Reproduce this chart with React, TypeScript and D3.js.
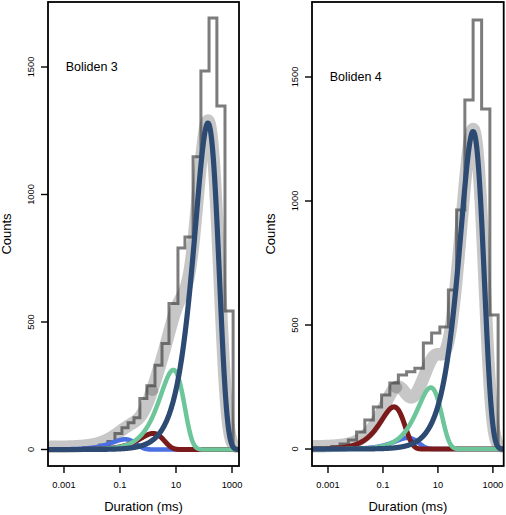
import React from "react";
import * as d3 from "d3";

// ---------- data ----------
const panelTitles = ["Boliden 3", "Boliden 4"];
const xTickValues = [0.001, 0.1, 10, 1000];
const xTickLabels = ["0.001", "0.1", "10", "1000"];
const yTickValues = [0, 500, 1000, 1500];
const yTickLabels = ["0", "500", "1000", "1500"];

// histogram bin edges (log10 ms) and counts
const hist3EdgesLog = [-1.72, -1.43, -1.18, -0.93, -0.71, -0.5, -0.29, -0.04, 0.25, 0.5, 0.75, 1.07, 1.32, 1.61, 1.89, 2.18, 2.46, 2.75, 3.04];
const hist3Counts = [18, 31, 63, 85, 105, 125, 200, 250, 330, 416, 573, 790, 833, 1148, 1484, 1692, 1347, 543];
const hist4EdgesLog = [-2.87, -2.56, -2.26, -1.96, -1.66, -1.35, -1.05, -0.75, -0.44, -0.14, 0.16, 0.47, 0.77, 1.07, 1.38, 1.68, 1.98, 2.28, 2.59, 2.89, 3.19];
const hist4Counts = [10, 20, 36, 69, 117, 169, 218, 266, 298, 312, 326, 427, 468, 492, 641, 964, 1407, 1730, 1371, 540];

// fitted exponential components: time constant (log10 ms) and peak height (counts)
const componentNames = ["fast 1", "fast 2", "intermediate", "slow"];
const fit3TauLog = [-0.82, 0.18, 0.904, 2.14];
const fit3Peak = [40, 63, 312, 1280];
const fit4TauLog = [-0.1, -0.6, 0.74, 2.28];
const fit4Peak = [45, 170, 248, 1280];
const fitFloor = [10, 10];

// ---------- styles ----------
const componentColors = ["#4a6fe3", "#7a1a1a", "#6dc59a", "#2c4a72"];
const componentWidths = [4.6, 5, 4.5, 5.2];
const FONT = "'Liberation Sans', Arial, Helvetica, sans-serif";

const panels = [
  {
    id: "p3",
    title: panelTitles[0],
    edges: hist3EdgesLog,
    counts: hist3Counts,
    tau: fit3TauLog,
    peak: fit3Peak,
    floor: fitFloor[0],
    left: 48, right: 239, top: 2, bottom: 466,
    xLog: [-3.571, 3.25],
    yDomain: [-64.7, 1754.9],
    bandSplitLog: 0.15,
  },
  {
    id: "p4",
    title: panelTitles[1],
    edges: hist4EdgesLog,
    counts: hist4Counts,
    tau: fit4TauLog,
    peak: fit4Peak,
    floor: fitFloor[1],
    left: 312, right: 503.7, top: 2, bottom: 466,
    xLog: [-3.582, 3.393],
    yDomain: [-68.5, 1802.4],
    bandSplitLog: -0.52,
  },
];

function comp(t: number, tauLog: number, peak: number) {
  const u = t / Math.pow(10, tauLog);
  return peak * u * Math.exp(1 - u);
}

function Panel({ cfg }: { cfg: any }) {
  const x = d3.scaleLog().domain([Math.pow(10, cfg.xLog[0]), Math.pow(10, cfg.xLog[1])]).range([cfg.left, cfg.right]);
  const y = d3.scaleLinear().domain(cfg.yDomain).range([cfg.bottom, cfg.top]);
  const line = d3.line<[number, number]>().x((d) => x(d[0])).y((d) => y(d[1]));

  // histogram step path
  const hpts: [number, number][] = [];
  const e = cfg.edges as number[];
  hpts.push([Math.pow(10, e[0]), 0]);
  (cfg.counts as number[]).forEach((c, i) => {
    hpts.push([Math.pow(10, e[i]), c]);
    hpts.push([Math.pow(10, e[i + 1]), c]);
  });
  hpts.push([Math.pow(10, e[e.length - 1]), 0]);

  // sampling grid for model curves
  const n = 500;
  const grid = d3.range(n + 1).map((i) => Math.pow(10, cfg.xLog[0] + ((cfg.xLog[1] - cfg.xLog[0]) * i) / n));
  const compCurves = (cfg.tau as number[]).map((tl, k) => grid.map((t) => [t, comp(t, tl, cfg.peak[k])] as [number, number]));
  const total = grid.map((t, i) => [t, cfg.floor + compCurves.reduce((s, c) => s + c[i][1], 0)] as [number, number]);
  const splitT = Math.pow(10, cfg.bandSplitLog);
  const bandA = total.filter((d) => d[0] <= splitT);
  const bandB = total.filter((d) => d[0] >= splitT);

  const clipId = "clip-" + cfg.id;
  const cx = (cfg.left + cfg.right) / 2;
  const cy = (cfg.top + cfg.bottom) / 2;

  return (
    <g>
      <defs>
        <clipPath id={clipId}>
          <rect x={cfg.left} y={cfg.top} width={cfg.right - cfg.left} height={cfg.bottom - cfg.top} />
        </clipPath>
      </defs>
      <g clipPath={`url(#${clipId})`}>
        <path d={line(hpts) || ""} fill="none" stroke="#7c7c7c" strokeWidth={3} strokeLinejoin="miter" />
        {[bandA, bandB].map((b, i) => (
          <path key={"band" + i} d={line(b) || ""} fill="none" stroke="rgba(70,70,70,0.3)" strokeWidth={12.5} strokeLinejoin="round" strokeLinecap="round" />
        ))}
        {compCurves.map((c, k) => (
          <path key={k} d={line(c) || ""} fill="none" stroke={componentColors[k]} strokeWidth={componentWidths[k]} strokeLinejoin="round">
            <title>{componentNames[k]}</title>
          </path>
        ))}
      </g>
      <rect x={cfg.left} y={cfg.top} width={cfg.right - cfg.left} height={cfg.bottom - cfg.top} fill="none" stroke="#000" strokeWidth={1.8} />
      {xTickValues.map((v, i) => (
        <g key={"xt" + i}>
          <line x1={x(v)} x2={x(v)} y1={cfg.bottom} y2={cfg.bottom + 7} stroke="#000" strokeWidth={1.4} />
          <text x={x(v)} y={488} textAnchor="middle" fontSize={9.3} fontFamily={FONT} fill="#000">{xTickLabels[i]}</text>
        </g>
      ))}
      {yTickValues.map((v, i) => (
        <g key={"yt" + i}>
          <line x1={cfg.left - 7} x2={cfg.left} y1={y(v)} y2={y(v)} stroke="#000" strokeWidth={1.4} />
          <text transform={`translate(${cfg.left - 14},${y(v)}) rotate(-90)`} textAnchor="middle" fontSize={9.3} fontFamily={FONT} fill="#000">{yTickLabels[i]}</text>
        </g>
      ))}
      <text x={cx} y={511} textAnchor="middle" fontSize={13} fontFamily={FONT} fill="#000">Duration (ms)</text>
      <text transform={`translate(${cfg.left - 37.5},${cy}) rotate(-90)`} textAnchor="middle" fontSize={13} fontFamily={FONT} fill="#000">Counts</text>
      <text x={x(0.00115)} y={y(1500)} dy="0.35em" fontSize={12.5} fontFamily={FONT} fill="#000">{cfg.title}</text>
    </g>
  );
}

export default function App() {
  return (
    <svg width={506} height={515} style={{ position: "absolute", left: 0, top: 0, background: "#fff" }}>
      <rect x={0} y={0} width={506} height={515} fill="#fff" />
      {panels.map((p) => (
        <Panel key={p.id} cfg={p} />
      ))}
    </svg>
  );
}
